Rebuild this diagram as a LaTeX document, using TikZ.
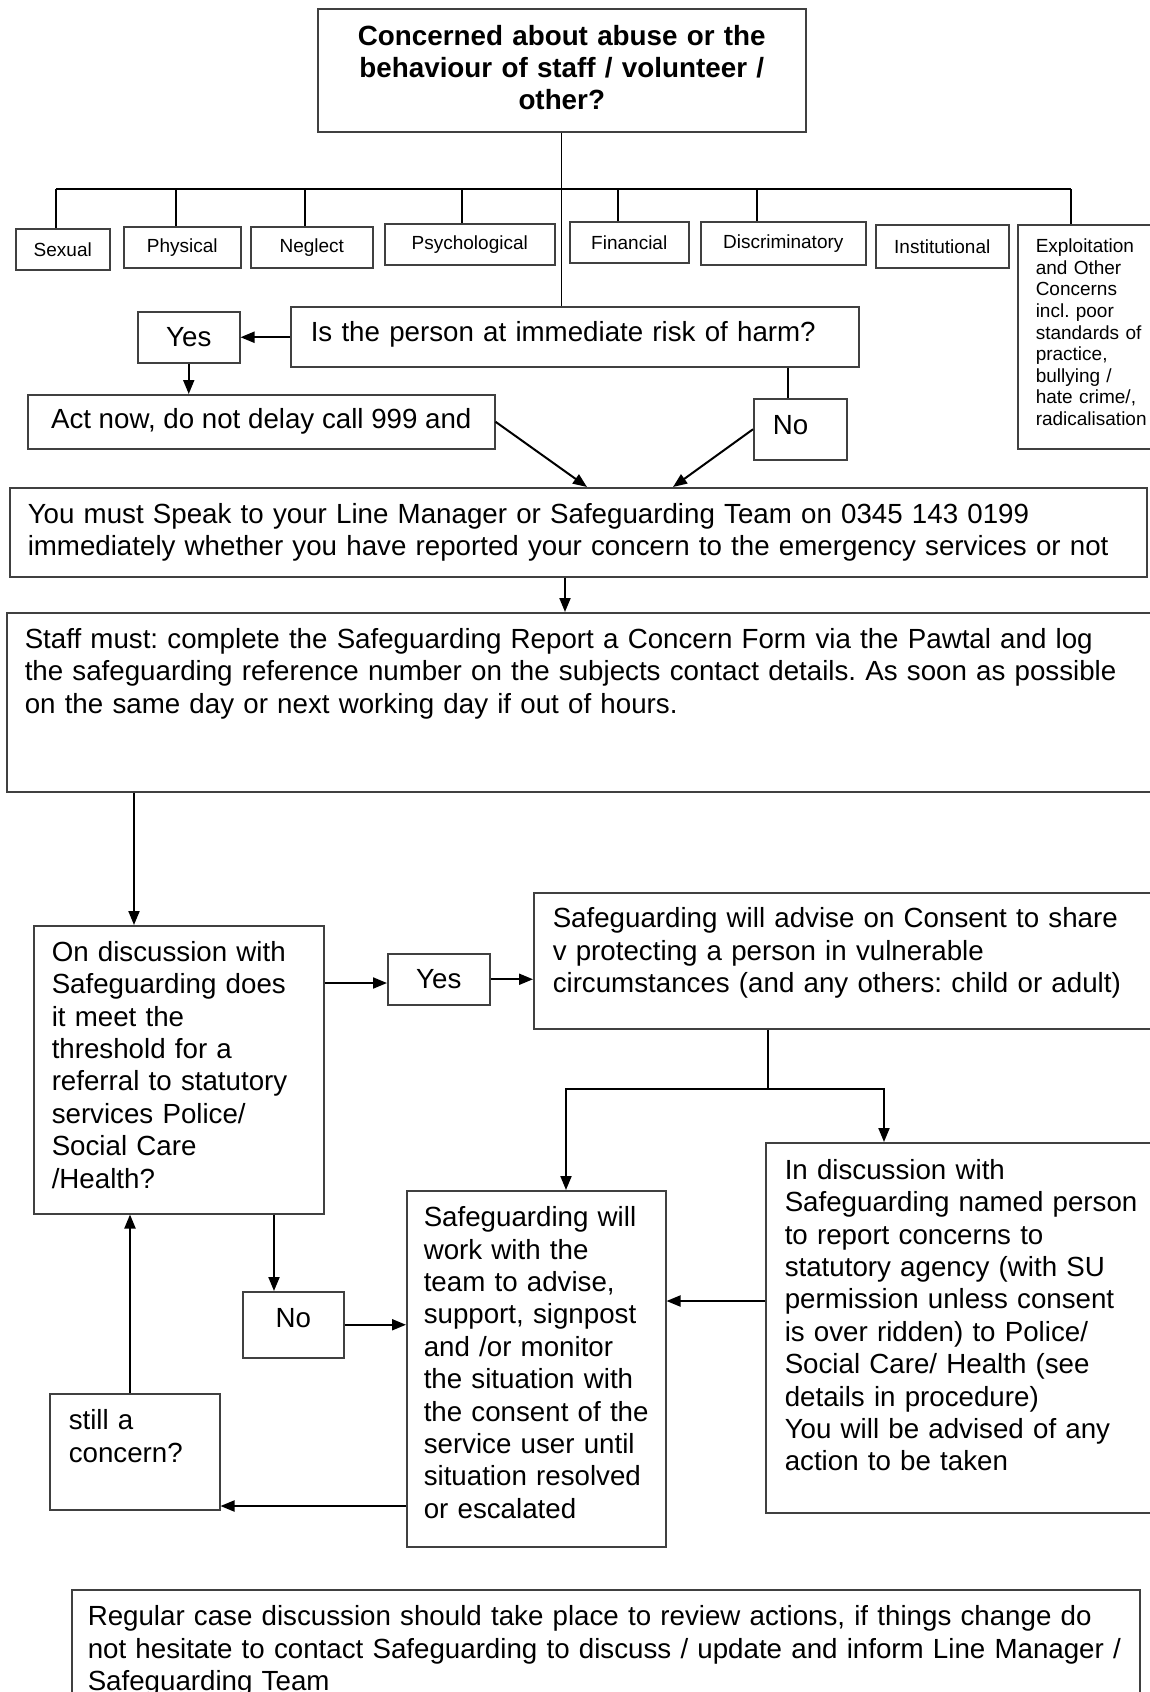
\documentclass[tikz,border=0pt]{standalone}
\usepackage{fontspec}
\setmainfont{Liberation Sans}
\usetikzlibrary{arrows.meta, positioning}

\begin{document}
\frenchspacing
\begin{tikzpicture}[x=1pt, y=-1pt, >={Triangle[length=14pt, width=11pt]}, line width=1.3pt]
\tikzstyle{tag}=[draw=black!75, line width=1.5pt, anchor=north west, inner sep=0pt, font=\fontsize{19}{21.6}\selectfont]
\tikzstyle{flag}=[draw=black!75, line width=1.5pt, anchor=north west, inner sep=0pt, font=\fontsize{27.7}{32.4}\selectfont]
\tikzstyle{box}=[draw=black!75, line width=1.5pt, anchor=north west, inner ysep=0pt, align=left, font=\fontsize{27.7}{32.4}\selectfont]
\tikzstyle{link}=[->, line width=2pt]

\useasboundingbox (0,0) rectangle (1150,1692);
\clip (0,0) rectangle (1150,1692);

% the concern
\node[box, align=center, font=\bfseries\fontsize{27.8}{31.8}\selectfont, text width=440pt, inner xsep=24pt, text height=37pt, text depth=86pt] (concern) at (317,8) {Concerned about abuse or the\\behaviour of staff / volunteer /\\other?};

% kinds of abuse
\node[tag, minimum width=94pt, minimum height=41pt] (sexual) at (15,228) {Sexual};
\node[tag, minimum width=117pt, minimum height=41pt] (physical) at (123,226) {Physical};
\node[tag, minimum width=122pt, minimum height=41pt] (neglect) at (250,226) {Neglect};
\node[tag, minimum width=170pt, minimum height=41pt] (psych) at (384,223) {Psychological};
\node[tag, minimum width=119pt, minimum height=41pt] (financial) at (569,221) {Financial};
\node[tag, minimum width=165pt, minimum height=43pt] (discrim) at (700,221) {Discriminatory};
\node[tag, minimum width=133pt, minimum height=43pt] (instit) at (875,224) {Institutional};
\node[box, font=\fontsize{19}{21.6}\selectfont, text width=144pt, inner xsep=18pt, text height=28pt, text depth=196pt] (exploit) at (1017,224) {Exploitation\\and Other\\Concerns\\incl. poor\\standards of\\practice,\\bullying /\\hate crime/,\\radicalisation};

\coordinate (bSexual) at (56,189);
\coordinate (bPhysical) at (176,189);
\coordinate (bNeglect) at (305,189);
\coordinate (bPsych) at (462,189);
\coordinate (bFinancial) at (618,189);
\coordinate (bDiscrim) at (757,189);
\coordinate (bExploit) at (1071,189);
\draw (bSexual) -- (bExploit);
\foreach \b/\n in {bSexual/sexual, bPhysical/physical, bNeglect/neglect, bPsych/psych, bFinancial/financial, bDiscrim/discrim, bExploit/exploit}
  \draw (\b) -- (\b |- \n.north);

% immediate risk
\node[box, text width=528pt, inner xsep=20pt, text height=35pt, text depth=25pt] (question) at (290,306) {Is the person at immediate risk of harm?};
\node[flag, minimum width=102pt, minimum height=51pt] (yes1) at (137,311) {Yes};
\node[flag, minimum width=467pt, minimum height=54pt] (act) at (27,394) {Act now, do not delay call 999 and};
\node[box, text width=55pt, inner xsep=19pt, text height=36pt, text depth=25pt] (no1) at (753,398) {No};
\node[box, text width=1101pt, inner xsep=18pt, text height=35.5pt, text depth=53.5pt] (speak) at (9,487) {You must Speak to your Line Manager or Safeguarding Team on 0345 143 0199\\immediately whether you have reported your concern to the emergency services or not};
\node[box, text width=1128pt, inner xsep=18pt, text height=35.6pt, text depth=143.4pt] (staff) at (6,612) {Staff must: complete the Safeguarding Report a Concern Form via the Pawtal and log\\the safeguarding reference number on the subjects contact details. As soon as possible\\on the same day or next working day if out of hours.};

\draw (concern.south) -- (concern.south |- question.north);
\draw[link] (yes1.east -| question.west) -- (yes1.east);
\draw[link] (yes1.south) -- (yes1.south |- act.north);
\coordinate (noTap) at (788,0);
\draw (question.south -| noTap) -- (no1.north -| noTap);
\coordinate (mA) at (587,487);
\coordinate (mB) at (673,487);
\draw[link] (act.east) -- (mA);
\draw[link] (no1.west) -- (mB);
\coordinate (downTap) at (565,0);
\draw[link] (speak.south -| downTap) -- (staff.north -| downTap);

% threshold
\node[box, text width=254pt, inner xsep=18pt, text height=35.5pt, text depth=252.5pt] (ondisc) at (33,925) {On discussion with\\Safeguarding does\\it meet the\\threshold for a\\referral to statutory\\services Police/\\Social Care\\/Health?};
\node[flag, minimum width=102pt, minimum height=51pt] (yes2) at (387,953) {Yes};
\node[box, text width=599pt, inner xsep=19pt, text height=35pt, text depth=101pt] (advise) at (533,892) {Safeguarding will advise on Consent to share\\v protecting a person in vulnerable\\circumstances (and any others: child or adult)};
\node[box, text width=225pt, inner xsep=17pt, text height=36pt, text depth=320pt] (work) at (406,1190) {Safeguarding will\\work with the\\team to advise,\\support, signpost\\and /or monitor\\the situation with\\the consent of the\\service user until\\situation resolved\\or escalated};
\node[box, text width=367pt, inner xsep=19pt, text height=36.5pt, text depth=333.5pt] (indisc) at (765,1142) {In discussion with\\Safeguarding named person\\to report concerns to\\statutory agency (with SU\\permission unless consent\\is over ridden) to Police/\\Social Care/ Health (see\\details in procedure)\\You will be advised of any\\action to be taken};
\node[flag, minimum width=101pt, text height=36pt, text depth=30pt] (no2) at (242,1291) {No};
\node[box, text width=132pt, inner xsep=19pt, text height=36pt, text depth=80pt] (still) at (49,1393) {still a\\concern?};
\node[box, text width=1036pt, inner xsep=16pt, text height=36pt, text depth=95pt] (regular) at (71,1589) {Regular case discussion should take place to review actions, if things change do\\not hesitate to contact Safeguarding to discuss / update and inform Line Manager /\\Safeguarding Team};

\coordinate (leftTap) at (134,0);
\draw[link] (staff.south -| leftTap) -- (ondisc.north -| leftTap);
\coordinate (yesY) at (0,983);
\draw[link] (ondisc.east |- yesY) -- (yes2.west |- yesY);
\draw[link] (yes2.east) -- (yes2.east -| advise.west);
\coordinate (splitM) at (768,1089);
\coordinate (splitL) at (566,1089);
\coordinate (splitR) at (884,1089);
\draw (advise.south -| splitM) -- (splitM);
\draw[link] (splitM) -- (splitL) -- (splitL |- work.north);
\draw[link] (splitM) -- (splitR) -- (splitR |- indisc.north);
\coordinate (sideY) at (0,1301);
\draw[link] (indisc.west |- sideY) -- (work.east |- sideY);
\coordinate (noDrop) at (274,0);
\draw[link] (ondisc.south -| noDrop) -- (no2.north -| noDrop);
\draw[link] (no2.east) -- (no2.east -| work.west);
\coordinate (backY) at (0,1506);
\draw[link] (work.west |- backY) -- (still.east |- backY);
\coordinate (upTap) at (130,0);
\draw[link] (still.north -| upTap) -- (ondisc.south -| upTap);
\end{tikzpicture}
\end{document}
